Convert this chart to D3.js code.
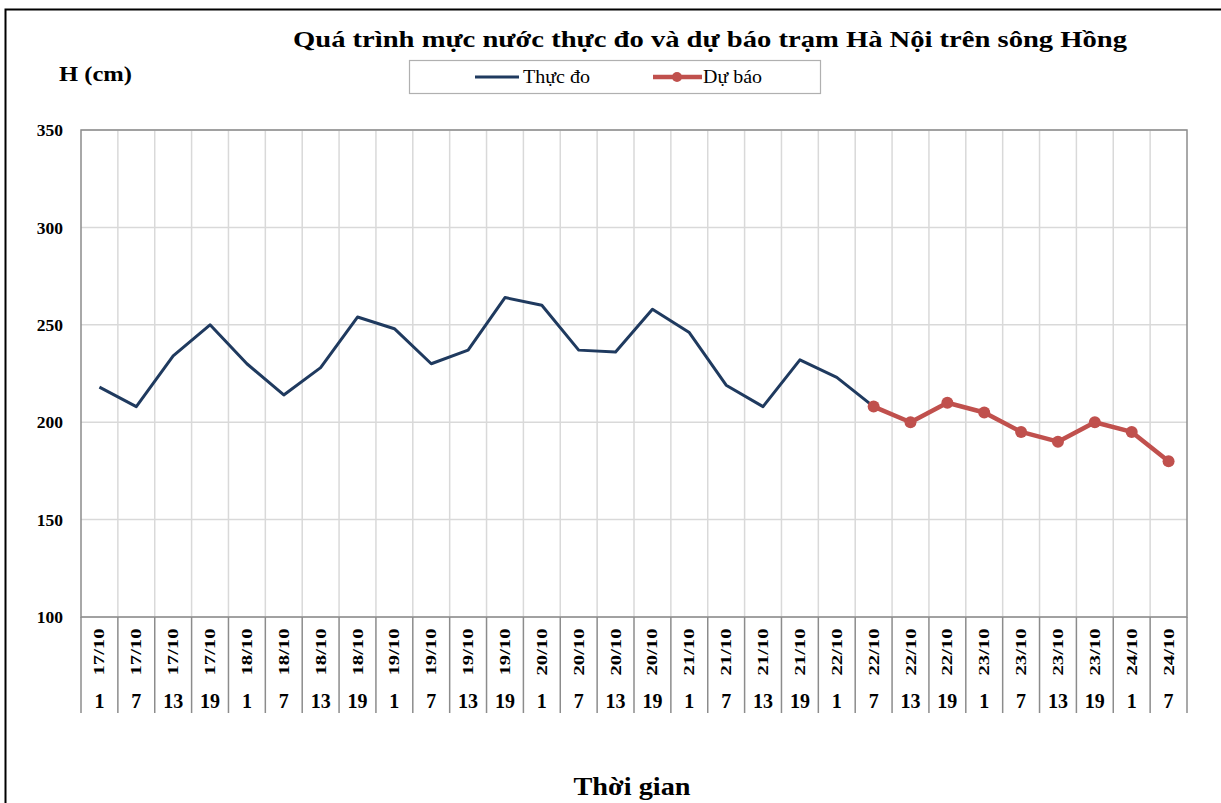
<!DOCTYPE html>
<html><head><meta charset="utf-8">
<script src="https://cdn.jsdelivr.net/npm/d3@7"></script>
<style>
body{margin:0;background:#fff;}
svg{display:block;font-family:"Liberation Serif","Times New Roman",serif;}
</style></head>
<body><svg id="c" width="1221" height="803"></svg>
<script>
const dates = ["17/10","17/10","17/10","17/10","18/10","18/10","18/10","18/10","19/10","19/10","19/10","19/10","20/10","20/10","20/10","20/10","21/10","21/10","21/10","21/10","22/10","22/10","22/10","22/10","23/10","23/10","23/10","23/10","24/10","24/10"];
const hours = ["1","7","13","19","1","7","13","19","1","7","13","19","1","7","13","19","1","7","13","19","1","7","13","19","1","7","13","19","1","7"];
const observed = [218,208,234,250,230,214,228,254,248,230,237,264,260,237,236,258,246,219,208,232,223,208,null,null,null,null,null,null,null,null];
const forecast = [null,null,null,null,null,null,null,null,null,null,null,null,null,null,null,null,null,null,null,null,null,208,200,210,205,195,190,200,195,180];
const yTicks = [100,150,200,250,300,350];

const svg = d3.select("#c");
const L=81, R=1187, T=130, B=617;
const idx = d3.range(dates.length);
const x = d3.scaleBand().domain(idx).range([L,R]).padding(0);
const y = d3.scaleLinear().domain([100,350]).range([B,T]);
const cx = i => x(i)+x.bandwidth()/2;

// outer border
svg.append("rect").attr("x",5.5).attr("y",9.5).attr("width",1240).attr("height",820)
  .attr("fill","none").attr("stroke","#000").attr("stroke-width",2);

// gridlines
const g = svg.append("g");
g.selectAll(".hg").data(yTicks).join("line")
  .attr("x1",L).attr("x2",R).attr("y1",d=>y(d)).attr("y2",d=>y(d))
  .attr("stroke","#d9d9d9").attr("stroke-width",1.5);
g.selectAll(".vg").data(idx.slice(1)).join("line")
  .attr("x1",d=>x(d)).attr("x2",d=>x(d)).attr("y1",T).attr("y2",B)
  .attr("stroke","#d9d9d9").attr("stroke-width",1.5);

// plot border
svg.append("rect").attr("x",L).attr("y",T).attr("width",R-L).attr("height",B-T)
  .attr("fill","none").attr("stroke","#8c8c8c").attr("stroke-width",1.5);

// y axis labels
const ya = d3.axisLeft(y).tickValues(yTicks).tickSize(0).tickPadding(18);
const yg = svg.append("g").attr("transform",`translate(${L},0)`).call(ya);
yg.select(".domain").remove();
yg.selectAll("text").attr("font-family","Liberation Serif").attr("font-weight","bold")
  .attr("font-size",17.5).attr("fill","#000");

// x axis separators in label area
const sepX = idx.map(i=>x(i)).concat([R]);
svg.selectAll(".sep").data(sepX).join("line")
  .attr("x1",d=>d).attr("x2",d=>d).attr("y1",B).attr("y2",713)
  .attr("stroke","#8c8c8c").attr("stroke-width",1.5);

// date labels rotated
svg.selectAll(".dl").data(idx).join("text")
  .attr("transform",i=>`translate(${cx(i)+5},652) rotate(-90)`)
  .attr("text-anchor","middle").attr("font-weight","bold").attr("font-size",15.5)
  .attr("textLength",47).attr("lengthAdjust","spacingAndGlyphs")
  .text(i=>dates[i]);
// hour labels
svg.selectAll(".hl").data(idx).join("text")
  .attr("x",i=>cx(i)).attr("y",708)
  .attr("text-anchor","middle").attr("font-weight","bold").attr("font-size",20)
  .text(i=>hours[i]);

// lines
const line = d3.line().defined(d=>d.v!=null).x(d=>cx(d.i)).y(d=>y(d.v));
svg.append("path").datum(observed.map((v,i)=>({i,v})))
  .attr("d",line).attr("fill","none").attr("stroke","#1f3a5f").attr("stroke-width",3)
  .attr("stroke-linejoin","round");
const fdata = forecast.map((v,i)=>({i,v}));
svg.append("path").datum(fdata)
  .attr("d",line).attr("fill","none").attr("stroke","#c0504d").attr("stroke-width",4.5)
  .attr("stroke-linejoin","round");
svg.selectAll(".dot").data(fdata.filter(d=>d.v!=null)).join("circle")
  .attr("cx",d=>cx(d.i)).attr("cy",d=>y(d.v)).attr("r",6).attr("fill","#c0504d");

// title
svg.append("text").attr("x",710).attr("y",47).attr("text-anchor","middle")
  .attr("font-weight","bold").attr("font-size",24)
  .attr("textLength",834).attr("lengthAdjust","spacingAndGlyphs")
  .text("Quá trình mực nước thực đo và dự báo trạm Hà Nội trên sông Hồng");
svg.append("text").attr("x",59).attr("y",81)
  .attr("font-weight","bold").attr("font-size",21)
  .attr("textLength",73).attr("lengthAdjust","spacingAndGlyphs").text("H (cm)");
svg.append("text").attr("x",632).attr("y",795).attr("text-anchor","middle")
  .attr("font-weight","bold").attr("font-size",25)
  .attr("textLength",117).attr("lengthAdjust","spacingAndGlyphs").text("Thời gian");

// legend
const lg = svg.append("g");
lg.append("rect").attr("x",409.5).attr("y",60.5).attr("width",411).attr("height",33)
  .attr("fill","#fff").attr("stroke","#b0b0b0").attr("stroke-width",1.2);
lg.append("line").attr("x1",475).attr("x2",519).attr("y1",77).attr("y2",77)
  .attr("stroke","#1f3a5f").attr("stroke-width",3);
lg.append("text").attr("x",523).attr("y",83).attr("font-size",19)
  .attr("textLength",67).attr("lengthAdjust","spacingAndGlyphs").text("Thực đo");
lg.append("line").attr("x1",653).attr("x2",702).attr("y1",77).attr("y2",77)
  .attr("stroke","#c0504d").attr("stroke-width",4.5);
lg.append("circle").attr("cx",677).attr("cy",77).attr("r",5).attr("fill","#c0504d");
lg.append("text").attr("x",703).attr("y",83).attr("font-size",19)
  .attr("textLength",59).attr("lengthAdjust","spacingAndGlyphs").text("Dự báo");
</script></body></html>
